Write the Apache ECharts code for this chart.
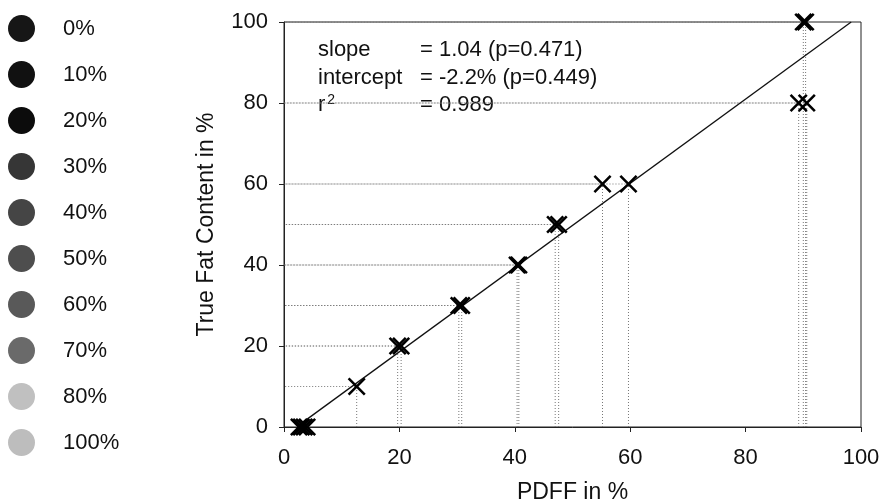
<!DOCTYPE html>
<html>
<head>
<meta charset="utf-8">
<script src="https://cdn.jsdelivr.net/npm/echarts@6/dist/echarts.min.js"></script>
<style>
html,body{margin:0;padding:0;background:#fff;}
#chart{width:883px;height:500px;}
</style>
</head>
<body>
<div id="chart"></div>
<script>
// ---- data ----
var pdff      = [2.6, 3.0, 3.5, 4.0, 12.6, 19.7, 20.3, 30.3, 30.8, 40.4, 40.7, 47.0, 47.6, 55.2, 59.7, 89.2, 90.6, 90.0, 90.4];
var trueFat   = [0,   0,   0,   0,   10,   20,   20,   30,   30,   40,   40,   50,   50,   60,   60,   80,   80,   100,  100];
var fitLine   = [[3.3, 1.2], [98.3, 100]];
var xTicks    = [0, 20, 40, 60, 80, 100];
var yTicks    = [0, 20, 40, 60, 80, 100];
var legendNames  = ['0%', '10%', '20%', '30%', '40%', '50%', '60%', '70%', '80%', '100%'];
var legendColors = ['#161616', '#111111', '#0c0c0c', '#363636', '#454545', '#4e4e4e', '#595959', '#6a6a6a', '#c0c0c0', '#bdbdbd'];
var statLabels = ['slope', 'intercept', 'r{sup|2}'];
var statValues = ['= 1.04 (p=0.471)', '= -2.2% (p=0.449)', '= 0.989'];

var FONT = "'Liberation Sans', Arial, Helvetica, sans-serif";
var chart = echarts.init(document.getElementById('chart'));

var series = [];
// legend-only series
legendNames.forEach(function (n, i) {
  series.push({ name: n, type: 'scatter', data: [], itemStyle: { color: legendColors[i], opacity: 1 } });
});
// dotted guide lines
for (var i = 0; i < pdff.length; i++) {
  if (trueFat[i] === 0) continue;
  series.push({
    type: 'line', silent: true, symbol: 'none', z: 1,
    lineStyle: { color: '#777', width: 1, type: [1, 2] },
    data: [[pdff[i], 0], [pdff[i], trueFat[i]], [0, trueFat[i]]]
  });
}
// regression line
series.push({
  type: 'line', symbol: 'none', silent: true, z: 3,
  lineStyle: { color: '#111', width: 1.3 },
  data: fitLine
});
// markers
series.push({
  type: 'scatter', z: 4,
  symbol: 'path://M0,1 L1,0 L5,4 L9,0 L10,1 L6,5 L10,9 L9,10 L5,6 L1,10 L0,9 L4,5 Z',
  symbolSize: 18,
  itemStyle: { color: '#000', opacity: 1 },
  data: pdff.map(function (x, k) { return [x, trueFat[k]]; })
});

var graphics = [];
statLabels.forEach(function (t, k) {
  graphics.push({
    type: 'text', x: 318, y: 50 + k * 27.5,
    style: {
      text: t, fill: '#111', font: '22px ' + FONT, verticalAlign: 'middle',
      rich: { sup: { fontSize: 14, verticalAlign: 'top', padding: [0, 0, 10, 2], fontFamily: FONT, fill: '#111' } }
    }
  });
  graphics.push({
    type: 'text', x: 420, y: 50 + k * 27.5,
    style: { text: statValues[k], fill: '#111', font: '22px ' + FONT, verticalAlign: 'middle' }
  });
});

chart.setOption({
  animation: false,
  backgroundColor: '#fff',
  textStyle: { fontFamily: FONT },
  grid: { left: 284, right: 22, top: 22, bottom: 73, outerBoundsMode: 'none', containLabel: false,
    show: true, borderColor: '#222', borderWidth: 1, backgroundColor: 'transparent' },
  legend: {
    orient: 'vertical', left: 8, top: 15, padding: 0,
    itemWidth: 27, itemHeight: 27, itemGap: 19,
    icon: 'circle', selectedMode: false,
    data: legendNames,
    textStyle: { fontSize: 22, color: '#111', fontFamily: FONT, padding: [0, 0, 0, 23] }
  },
  xAxis: {
    type: 'value', min: 0, max: 100, interval: 20,
    name: 'PDFF in %', nameLocation: 'middle', nameGap: 54,
    nameTextStyle: { fontSize: 23, color: '#111', fontFamily: FONT },
    axisLine: { lineStyle: { color: '#222', width: 1 } },
    axisTick: { show: true, length: 5, lineStyle: { color: '#222' } },
    axisLabel: { fontSize: 22, color: '#111', margin: 20, fontFamily: FONT,
      customValues: xTicks },
    splitLine: { show: false }
  },
  yAxis: {
    type: 'value', min: 0, max: 100, interval: 20,
    name: 'True Fat Content in %', nameLocation: 'middle', nameGap: 66, nameRotate: 90,
    nameTextStyle: { fontSize: 23, color: '#111', fontFamily: FONT },
    axisLine: { lineStyle: { color: '#222', width: 1 } },
    axisTick: { show: true, length: 5, lineStyle: { color: '#222' } },
    axisLabel: { fontSize: 22, color: '#111', margin: 16, fontFamily: FONT,
      customValues: yTicks },
    splitLine: { show: false }
  },
  graphic: graphics,
  series: series
});
</script>
</body>
</html>
